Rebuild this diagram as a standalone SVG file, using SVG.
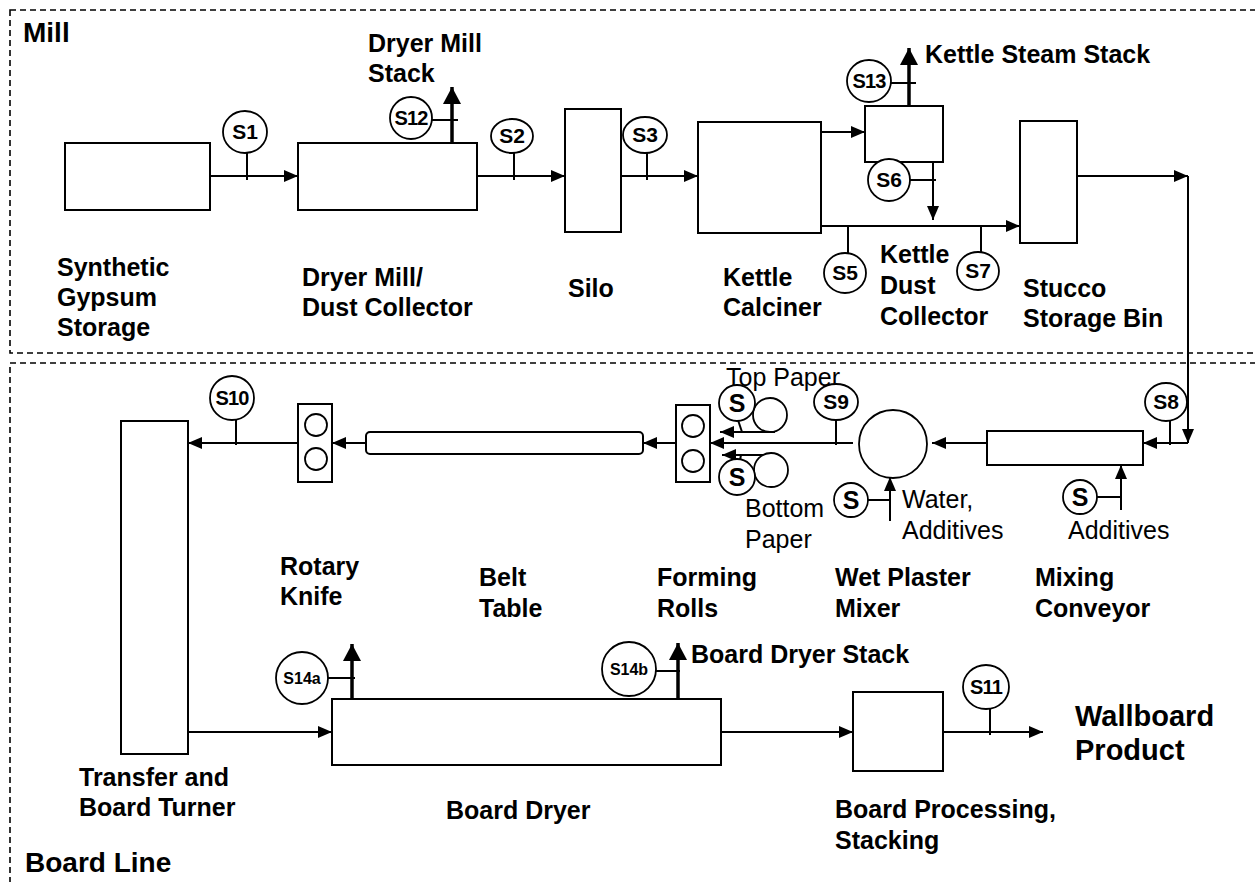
<svg xmlns="http://www.w3.org/2000/svg" width="1255" height="882" viewBox="0 0 1255 882">
<defs>
<style>
.bx{fill:#fff;stroke:#000;stroke-width:2}
.ln{fill:none;stroke:#000;stroke-width:2}
.th{fill:none;stroke:#000;stroke-width:3.5}
.dash{fill:none;stroke:#000;stroke-width:1.6;stroke-dasharray:6,4}
.sc{fill:#fff;stroke:#000;stroke-width:1.8}
text{font-family:"Liberation Sans",Arial,sans-serif;fill:#000}
.lb{font-size:25px;font-weight:bold}
.rg{font-size:25px}
.tt{font-size:28px;font-weight:bold}
.wp{font-size:29px;font-weight:bold}
.s2{font-size:21px;font-weight:bold;text-anchor:middle}
.s3{font-size:20px;font-weight:bold;text-anchor:middle;letter-spacing:-0.8px}
.s4{font-size:16px;font-weight:bold;text-anchor:middle}
.ss{font-size:25px;font-weight:bold;text-anchor:middle}
</style>
<marker id="a" viewBox="0 0 14 12" refX="14" refY="6" markerWidth="14" markerHeight="12" markerUnits="userSpaceOnUse" orient="auto"><path d="M0,0L14,6L0,12z" fill="#000"/></marker>
<marker id="b" viewBox="0 0 17 18" refX="17" refY="9" markerWidth="17" markerHeight="18" markerUnits="userSpaceOnUse" orient="auto"><path d="M0,0L17,9L0,18z" fill="#000"/></marker>
</defs>
<rect width="1255" height="882" fill="#fff"/>

<g id="sections">
<rect class="dash" x="10" y="10" width="1270" height="343"/>
<rect class="dash" x="10" y="363" width="1270" height="540"/>
<text class="tt" x="23" y="42">Mill</text>
<text class="tt" x="25" y="872">Board Line</text>
</g>

<g id="connectors">
<line class="ln" x1="210" y1="176" x2="298" y2="176" marker-end="url(#a)"/>
<line class="ln" x1="477" y1="176" x2="565" y2="176" marker-end="url(#a)"/>
<line class="ln" x1="621" y1="176" x2="698" y2="176" marker-end="url(#a)"/>
<line class="ln" x1="821" y1="132" x2="865" y2="132" marker-end="url(#a)"/>
<line class="ln" x1="933" y1="162" x2="933" y2="220" marker-end="url(#a)"/>
<line class="ln" x1="821" y1="226" x2="1020" y2="226" marker-end="url(#a)"/>
<line class="ln" x1="1077" y1="176" x2="1188" y2="176" marker-end="url(#a)"/>
<line class="ln" x1="1188" y1="176" x2="1188" y2="443" marker-end="url(#a)"/>
<line class="ln" x1="1188" y1="443" x2="1143" y2="443" marker-end="url(#a)"/>
<line class="th" x1="452" y1="143" x2="452" y2="87" marker-end="url(#b)"/>
<line class="th" x1="909" y1="106" x2="909" y2="48" marker-end="url(#b)"/>
<line class="ln" x1="987" y1="443" x2="932" y2="443" marker-end="url(#a)"/>
<line class="ln" x1="853" y1="443" x2="710" y2="443" marker-end="url(#a)"/>
<line class="ln" x1="775" y1="432" x2="720" y2="432" marker-end="url(#a)"/>
<line class="ln" x1="775" y1="455" x2="722" y2="455" marker-end="url(#a)"/>
<line class="ln" x1="676" y1="443" x2="643" y2="443" marker-end="url(#a)"/>
<line class="ln" x1="366" y1="443" x2="332" y2="443" marker-end="url(#a)"/>
<line class="ln" x1="298" y1="443" x2="188" y2="443" marker-end="url(#a)"/>
<line class="ln" x1="890" y1="521" x2="890" y2="477" marker-end="url(#a)"/>
<line class="ln" x1="1121" y1="510" x2="1121" y2="465" marker-end="url(#a)"/>
<line class="ln" x1="188" y1="732" x2="332" y2="732" marker-end="url(#a)"/>
<line class="ln" x1="721" y1="732" x2="853" y2="732" marker-end="url(#a)"/>
<line class="ln" x1="943" y1="732" x2="1043" y2="732" marker-end="url(#a)"/>
<line class="th" x1="352" y1="699" x2="352" y2="644" marker-end="url(#b)"/>
<line class="th" x1="678" y1="699" x2="678" y2="643" marker-end="url(#b)"/>
</g>

<g id="synthetic-gypsum-storage">
<rect class="bx" x="65" y="143" width="145" height="67"/>
<text class="lb" x="57" y="276">Synthetic</text>
<text class="lb" x="57" y="306">Gypsum</text>
<text class="lb" x="57" y="336">Storage</text>
</g>
<g id="dryer-mill">
<rect class="bx" x="298" y="143" width="179" height="67"/>
<text class="lb" x="302" y="286">Dryer Mill/</text>
<text class="lb" x="302" y="316">Dust Collector</text>
<text class="lb" x="368" y="52">Dryer Mill</text>
<text class="lb" x="368" y="82">Stack</text>
</g>
<g id="silo">
<rect class="bx" x="565" y="109" width="56" height="123"/>
<text class="lb" x="568" y="297">Silo</text>
</g>
<g id="kettle-calciner">
<rect class="bx" x="698" y="122" width="123" height="111"/>
<text class="lb" x="723" y="286">Kettle</text>
<text class="lb" x="723" y="316">Calciner</text>
</g>
<g id="kettle-dust-collector">
<rect class="bx" x="865" y="106" width="78" height="56"/>
<text class="lb" x="880" y="263">Kettle</text>
<text class="lb" x="880" y="294">Dust</text>
<text class="lb" x="880" y="325">Collector</text>
<text class="lb" x="925" y="63">Kettle Steam Stack</text>
</g>
<g id="stucco-storage-bin">
<rect class="bx" x="1020" y="121" width="57" height="122"/>
<text class="lb" x="1023" y="297">Stucco</text>
<text class="lb" x="1023" y="327">Storage Bin</text>
</g>

<g id="transfer-board-turner">
<rect class="bx" x="121" y="421" width="67" height="333"/>
<text class="lb" x="79" y="786">Transfer and</text>
<text class="lb" x="79" y="816">Board Turner</text>
</g>
<g id="rotary-knife">
<rect class="bx" x="298" y="404" width="34" height="78"/>
<circle class="sc" cx="316" cy="425" r="11"/>
<circle class="sc" cx="316" cy="459" r="11"/>
<text class="lb" x="280" y="575">Rotary</text>
<text class="lb" x="280" y="605">Knife</text>
</g>
<g id="belt-table">
<rect class="bx" x="366" y="432" width="277" height="22" rx="4"/>
<text class="lb" x="479" y="586">Belt</text>
<text class="lb" x="479" y="617">Table</text>
</g>
<g id="forming-rolls">
<rect class="bx" x="676" y="405" width="34" height="77"/>
<circle class="sc" cx="693" cy="426" r="11"/>
<circle class="sc" cx="693" cy="461" r="11"/>
<text class="lb" x="657" y="586">Forming</text>
<text class="lb" x="657" y="617">Rolls</text>
</g>
<g id="paper-rolls">
<circle class="sc" cx="770" cy="415" r="17"/>
<circle class="sc" cx="771" cy="470" r="17"/>
<text class="rg" x="726" y="386">Top Paper</text>
<text class="rg" x="745" y="517">Bottom</text>
<text class="rg" x="745" y="548">Paper</text>
</g>
<g id="wet-plaster-mixer">
<circle class="sc" cx="893" cy="444" r="34" stroke-width="2"/>
<text class="rg" x="902" y="508">Water,</text>
<text class="rg" x="902" y="539">Additives</text>
<text class="lb" x="835" y="586">Wet Plaster</text>
<text class="lb" x="835" y="617">Mixer</text>
</g>
<g id="mixing-conveyor">
<rect class="bx" x="987" y="431" width="156" height="34"/>
<text class="rg" x="1068" y="539">Additives</text>
<text class="lb" x="1035" y="586">Mixing</text>
<text class="lb" x="1035" y="617">Conveyor</text>
</g>
<g id="board-dryer">
<rect class="bx" x="332" y="699" width="389" height="66"/>
<text class="lb" x="446" y="819">Board Dryer</text>
<text class="lb" x="691" y="663">Board Dryer Stack</text>
</g>
<g id="board-processing">
<rect class="bx" x="853" y="692" width="90" height="79"/>
<text class="lb" x="835" y="818">Board Processing,</text>
<text class="lb" x="835" y="849">Stacking</text>
</g>
<g id="wallboard-product">
<text class="wp" x="1075" y="726">Wallboard</text>
<text class="wp" x="1075" y="760">Product</text>
</g>

<g id="sample-points">
<line class="ln" x1="247" y1="153" x2="247" y2="180"/>
<ellipse class="sc" cx="245" cy="132" rx="22" ry="21"/><text class="s2" x="245" y="139">S1</text>
<line class="ln" x1="432" y1="120" x2="458" y2="120"/>
<ellipse class="sc" cx="411" cy="118" rx="21" ry="21"/><text class="s3" x="411" y="125">S12</text>
<line class="ln" x1="514" y1="153" x2="514" y2="180"/>
<ellipse class="sc" cx="512" cy="136" rx="21" ry="17"/><text class="s2" x="512" y="143">S2</text>
<line class="ln" x1="647" y1="153" x2="647" y2="180"/>
<ellipse class="sc" cx="645" cy="135" rx="22" ry="18"/><text class="s2" x="645" y="142">S3</text>
<line class="ln" x1="891" y1="83" x2="916" y2="83"/>
<ellipse class="sc" cx="869" cy="81" rx="22" ry="21"/><text class="s3" x="869" y="88">S13</text>
<line class="ln" x1="910" y1="180" x2="936" y2="180"/>
<ellipse class="sc" cx="889" cy="180" rx="21" ry="21"/><text class="s2" x="889" y="187">S6</text>
<line class="ln" x1="848" y1="226" x2="848" y2="253"/>
<ellipse class="sc" cx="845" cy="273" rx="21" ry="20"/><text class="s2" x="845" y="280">S5</text>
<line class="ln" x1="981" y1="226" x2="981" y2="252"/>
<ellipse class="sc" cx="978" cy="271" rx="21" ry="19"/><text class="s2" x="978" y="278">S7</text>
<line class="ln" x1="1170" y1="420" x2="1170" y2="445"/>
<ellipse class="sc" cx="1166" cy="402" rx="21" ry="19"/><text class="s2" x="1166" y="409">S8</text>
<line class="ln" x1="836" y1="420" x2="836" y2="445"/>
<ellipse class="sc" cx="836" cy="402" rx="22" ry="18"/><text class="s2" x="836" y="409">S9</text>
<line class="ln" x1="236" y1="420" x2="236" y2="445"/>
<ellipse class="sc" cx="232" cy="398" rx="22" ry="22"/><text class="s3" x="232" y="405">S10</text>
<line class="ln" x1="990" y1="709" x2="990" y2="735"/>
<ellipse class="sc" cx="986" cy="687" rx="23" ry="22"/><text class="s3" x="986" y="694">S11</text>
<line class="ln" x1="328" y1="678" x2="355" y2="678"/>
<ellipse class="sc" cx="302" cy="678" rx="26" ry="26"/><text class="s4" x="302" y="684">S14a</text>
<line class="ln" x1="656" y1="671" x2="680" y2="671"/>
<ellipse class="sc" cx="629" cy="669" rx="27" ry="27"/><text class="s4" x="629" y="675">S14b</text>
<line class="ln" x1="738" y1="420" x2="742" y2="432"/>
<circle class="sc" cx="737" cy="403" r="18"/><text class="ss" x="737" y="412">S</text>
<line class="ln" x1="741" y1="455" x2="740" y2="460"/>
<circle class="sc" cx="737" cy="477" r="18"/><text class="ss" x="737" y="486">S</text>
<line class="ln" x1="868" y1="500" x2="890" y2="500"/>
<circle class="sc" cx="851" cy="500" r="17"/><text class="ss" x="851" y="509">S</text>
<line class="ln" x1="1097" y1="497" x2="1121" y2="497"/>
<circle class="sc" cx="1080" cy="497" r="17"/><text class="ss" x="1080" y="506">S</text>
</g>
</svg>
